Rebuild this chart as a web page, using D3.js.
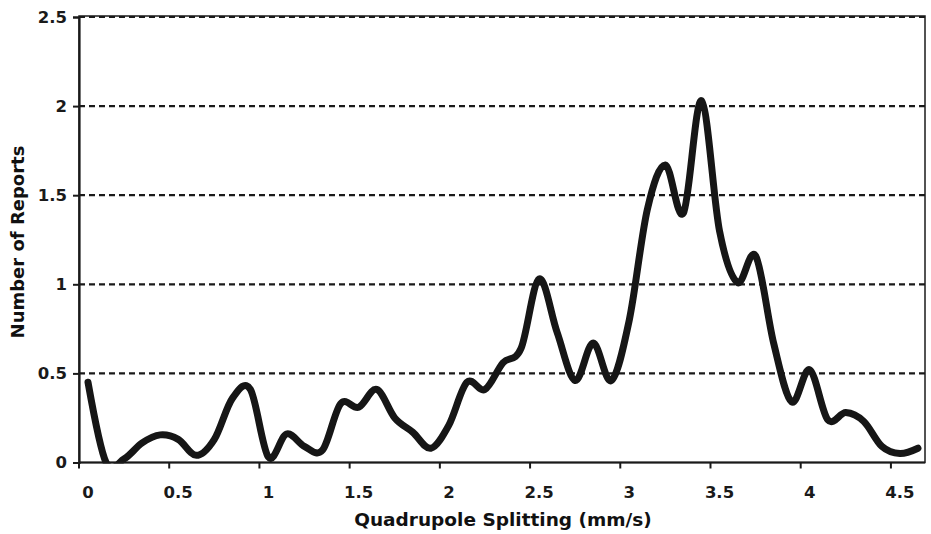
<!DOCTYPE html>
<html>
<head>
<meta charset="utf-8">
<script src="https://cdn.jsdelivr.net/npm/d3@7"></script>
<style>
  body { margin: 0; background: #fff; }
  svg { display: block; font-family: "DejaVu Sans", Verdana, sans-serif; }
</style>
</head>
<body>
<svg id="chart" width="931" height="534"></svg>
<script>
// splitting categories (mm/s) and smoothed report counts
const splitting = [0, 0.1, 0.2, 0.3, 0.4, 0.5, 0.6, 0.7, 0.8, 0.9,
  1, 1.1, 1.2, 1.3, 1.4, 1.5, 1.6, 1.7, 1.8, 1.9,
  2, 2.1, 2.2, 2.3, 2.4, 2.5, 2.6, 2.7, 2.8, 2.9,
  3, 3.1, 3.2, 3.3, 3.4, 3.5, 3.6, 3.7, 3.8, 3.9,
  4, 4.1, 4.2, 4.3, 4.4, 4.5, 4.6];
const reports = [0.45, 0.00, 0.02, 0.11, 0.155, 0.13, 0.04, 0.13, 0.36, 0.41,
  0.03, 0.16, 0.09, 0.07, 0.33, 0.31, 0.41, 0.25, 0.17, 0.08,
  0.21, 0.45, 0.41, 0.56, 0.64, 1.03, 0.73, 0.46, 0.67, 0.46,
  0.80, 1.42, 1.67, 1.40, 2.03, 1.30, 1.01, 1.16, 0.67, 0.34,
  0.52, 0.24, 0.28, 0.23, 0.09, 0.05, 0.08];
const xTickLabels = [0, 0.5, 1, 1.5, 2, 2.5, 3, 3.5, 4, 4.5];
const yTicks = [0, 0.5, 1, 1.5, 2, 2.5];

const plotLeft = 79, plotRight = 925, bandEnd = 927, plotTop = 17, plotBottom = 462.5;
const svg = d3.select("#chart");

const x = d3.scaleBand().domain(splitting).range([plotLeft, bandEnd]);
const y = d3.scaleLinear().domain([0, 2.5]).range([plotBottom, plotTop]);

// dashed gridlines
svg.append("g")
  .selectAll("line")
  .data(yTicks.filter(d => d > 0))
  .join("line")
    .attr("x1", plotLeft).attr("x2", plotRight)
    .attr("y1", d => y(d)).attr("y2", d => y(d))
    .attr("stroke", "#1a1a1a")
    .attr("stroke-width", 2.2)
    .attr("stroke-dasharray", "6,4");

// frame
svg.append("rect")
  .attr("x", plotLeft).attr("y", plotTop - 1)
  .attr("width", plotRight - plotLeft).attr("height", plotBottom - plotTop + 1)
  .attr("fill", "none")
  .attr("stroke", "#1a1a1a")
  .attr("stroke-width", 1.5);

svg.append("clipPath").attr("id", "plotClip")
  .append("rect")
  .attr("x", plotLeft).attr("y", 0)
  .attr("width", plotRight - plotLeft).attr("height", plotBottom + 1);

const line = d3.line()
  .x((d, i) => x(splitting[i]) + x.bandwidth() / 2)
  .y(d => y(d))
  .curve(d3.curveCardinal.tension(0));

svg.append("path")
  .datum(reports)
  .attr("clip-path", "url(#plotClip)")
  .attr("fill", "none")
  .attr("stroke", "#161616")
  .attr("stroke-width", 7)
  .attr("stroke-linejoin", "round")
  .attr("stroke-linecap", "round")
  .attr("d", line);

// y axis
const yAxis = svg.append("g")
  .attr("transform", `translate(${plotLeft},0)`)
  .call(d3.axisLeft(y).tickValues(yTicks).tickSize(6).tickPadding(6)
    .tickFormat(d3.format("~g")));
yAxis.select(".domain").attr("stroke-width", 2.2).attr("stroke", "#1a1a1a");
yAxis.selectAll(".tick line").attr("stroke-width", 2).attr("stroke", "#1a1a1a");
yAxis.selectAll("text")
  .attr("font-size", 16.5).attr("font-weight", "bold")
  .attr("font-family", "DejaVu Sans").attr("fill", "#1a1a1a");

// x axis: ticks at category boundaries, labels centered on categories
svg.append("line")
  .attr("x1", plotLeft).attr("x2", plotRight)
  .attr("y1", plotBottom).attr("y2", plotBottom)
  .attr("stroke", "#1a1a1a").attr("stroke-width", 2.2);

svg.append("g")
  .selectAll("line")
  .data(xTickLabels)
  .join("line")
    .attr("x1", d => x(d)).attr("x2", d => x(d))
    .attr("y1", plotBottom).attr("y2", plotBottom + 6)
    .attr("stroke", "#1a1a1a").attr("stroke-width", 2);

svg.append("g")
  .selectAll("text")
  .data(xTickLabels)
  .join("text")
    .attr("x", d => x(d) + x.bandwidth() / 2)
    .attr("y", 497.5)
    .attr("text-anchor", "middle")
    .attr("font-size", 16.5).attr("font-weight", "bold")
    .attr("fill", "#1a1a1a")
    .text(d => d3.format("~g")(d));

svg.append("text")
  .attr("x", 503).attr("y", 526)
  .attr("text-anchor", "middle")
  .attr("font-size", 18.5).attr("font-weight", "bold")
  .attr("fill", "#111")
  .text("Quadrupole Splitting (mm/s)");

svg.append("text")
  .attr("transform", "translate(24,242) rotate(-90)")
  .attr("text-anchor", "middle")
  .attr("font-size", 18).attr("font-weight", "bold")
  .attr("fill", "#111")
  .text("Number of Reports");
</script>
</body>
</html>
